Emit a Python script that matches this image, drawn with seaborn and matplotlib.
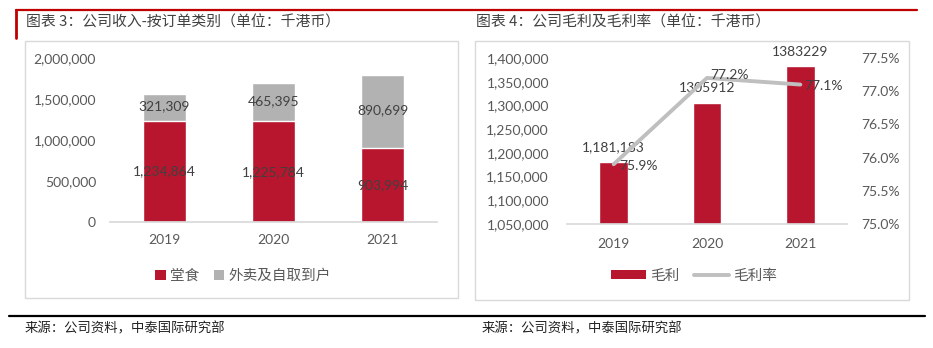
import matplotlib
matplotlib.use("Agg")
import matplotlib.pyplot as plt
from matplotlib.patches import Rectangle, Patch
from matplotlib.lines import Line2D
from matplotlib.ticker import FuncFormatter
import seaborn as sns
import numpy as np
import pandas as pd

# ---------------- data ----------------
years = ["2019", "2020", "2021"]
dine_in = [1234864, 1225784, 903994]
delivery = [321309, 465395, 890699]
gross_profit = [1181183, 1305912, 1383229]
gross_profit_labels = ["1,181,183", "1305912", "1383229"]
gross_margin = [75.9, 77.2, 77.1]

title_left = "图表 3：公司收入-按订单类别（单位：千港币）"
title_right = "图表 4：公司毛利及毛利率（单位：千港币）"
source_text = "来源：公司资料，中泰国际研究部"
legend_left = ["堂食", "外卖及自取到户"]
legend_right = ["毛利", "毛利率"]

RED = "#B8162E"
GRAY = "#B2B2B2"
LINE_GRAY = "#BFBFBF"
TXT = "#595959"
DARK = "#404040"
CJK = ["Noto Sans CJK SC", "DejaVu Sans"]

sns.set_theme(style="white")
plt.rcParams["font.family"] = ["Lato", "Noto Sans CJK SC", "DejaVu Sans"]
plt.rcParams["axes.unicode_minus"] = False

W, H = 933, 348
fig = plt.figure(figsize=(W / 100, H / 100), dpi=100)

def fx(x):
    return x / W

def fy(y):
    return 1 - y / H

# decorations: red lines, boxes, titles, sources
fig.add_artist(Line2D([fx(16), fx(470)], [fy(10), fy(10)], color="#C00000", lw=1.6))
fig.add_artist(Line2D([fx(16), fx(16)], [fy(10), fy(38)], color="#C00000", lw=2.0))
fig.add_artist(Line2D([fx(470), fx(917)], [fy(10), fy(10)], color="#C00000", lw=1.6))
fig.add_artist(Rectangle((fx(25), fy(298)), fx(458) - fx(25), fy(41) - fy(298),
                         fill=False, ec="#D9D9D9", lw=1.0))
fig.add_artist(Rectangle((fx(475), fy(300)), fx(909) - fx(475), fy(41) - fy(300),
                         fill=False, ec="#D9D9D9", lw=1.0))
fig.text(fx(26), fy(22), title_left, fontsize=10.7, color=DARK, va="center", ha="left",
         family=CJK)
fig.text(fx(476), fy(22), title_right, fontsize=10.7, color=DARK, va="center", ha="left",
         family=CJK)
fig.add_artist(Line2D([fx(9), fx(925)], [fy(316), fy(316)], color="black", lw=1.6))
fig.text(fx(25), fy(328), source_text, fontsize=9.6, color="#222222", va="center", ha="left",
         family=CJK)
fig.text(fx(482), fy(328), source_text, fontsize=9.6, color="#222222", va="center", ha="left",
         family=CJK)

# ---------------- left chart ----------------
axL = fig.add_axes([fx(110), fy(222), fx(437) - fx(110), fy(58) - fy(222)])
dfL = pd.DataFrame({"year": years, "dine": dine_in, "deliv": delivery})
dfL["total"] = dfL["dine"] + dfL["deliv"]
sns.barplot(data=dfL, x="year", y="total", color=GRAY, width=0.4, saturation=1, ax=axL)
sns.barplot(data=dfL, x="year", y="dine", color=RED, width=0.4, saturation=1, ax=axL)
axL.set_ylim(0, 2000000)
axL.set_xlim(-0.5, 2.5)
axL.set_yticks(np.arange(0, 2000001, 500000))
axL.yaxis.set_major_formatter(FuncFormatter(lambda v, p: f"{int(v):,}"))
axL.set_xlabel("")
axL.set_ylabel("")
for s in ["top", "right", "left"]:
    axL.spines[s].set_visible(False)
axL.spines["bottom"].set_color("#D9D9D9")
axL.tick_params(axis="y", length=0, pad=10, labelsize=10, labelcolor=TXT)
axL.tick_params(axis="x", length=0, pad=9, labelsize=10, labelcolor=TXT)
for i in range(len(years)):
    axL.text(i, dine_in[i] / 2, f"{dine_in[i]:,}", ha="center", va="center",
             fontsize=10, color=DARK)
    axL.text(i, dine_in[i] + delivery[i] / 2 + 15000, f"{delivery[i]:,}", ha="center",
             va="center", fontsize=10, color=DARK)
handlesL = [Patch(facecolor=RED, edgecolor="none"), Patch(facecolor=GRAY, edgecolor="none")]
fig.legend(handlesL, legend_left, loc="center", bbox_to_anchor=(fx(243), fy(276)),
           ncol=2, frameon=False, handlelength=0.7, handleheight=0.7,
           handletextpad=0.3, columnspacing=1.0, labelcolor=TXT,
           prop={"family": CJK, "size": 10.5})

# ---------------- right chart ----------------
axR = fig.add_axes([fx(567), fy(224), fx(847) - fx(567), fy(58) - fy(224)])
dfR = pd.DataFrame({"year": years, "gp": gross_profit, "gm": gross_margin})
sns.barplot(data=dfR, x="year", y="gp", color=RED, width=0.31, saturation=1, ax=axR)
axR.set_ylim(1050000, 1400000)
axR.set_xlim(-0.5, 2.5)
axR.set_yticks(np.arange(1050000, 1400001, 50000))
axR.yaxis.set_major_formatter(FuncFormatter(lambda v, p: f"{int(v):,}"))
axR.set_xlabel("")
axR.set_ylabel("")
for s in ["top", "right", "left"]:
    axR.spines[s].set_visible(False)
axR.spines["bottom"].set_color("#D9D9D9")
axR.tick_params(axis="y", length=0, pad=13, labelsize=10, labelcolor=TXT)
axR.tick_params(axis="x", length=0, pad=10, labelsize=10, labelcolor=TXT)
for i in range(len(years)):
    axR.annotate(gross_profit_labels[i], (i, gross_profit[i]), xytext=(0, 6),
                 textcoords="offset points", ha="center", va="bottom", fontsize=10, color=DARK)

axR2 = axR.twinx()
sns.lineplot(x=np.arange(len(years)), y=dfR["gm"], color=LINE_GRAY, lw=2.8, ax=axR2)
axR2.set_ylim(75.0, 77.5)
axR2.set_yticks(np.arange(75.0, 77.51, 0.5))
axR2.yaxis.set_major_formatter(FuncFormatter(lambda v, p: f"{v:.1f}%"))
axR2.set_ylabel("")
for s in ["top", "right", "left", "bottom"]:
    axR2.spines[s].set_visible(False)
axR2.tick_params(axis="y", length=0, pad=10, labelsize=10, labelcolor=TXT)
offsets = [(4, -1), (2, 2), (3, -1)]
for i in range(len(years)):
    axR2.annotate(f"{gross_margin[i]:.1f}%", (i, gross_margin[i]), xytext=offsets[i],
                  textcoords="offset points", ha="left", va="center", fontsize=10, color=DARK)

handlesR = [Patch(facecolor=RED, edgecolor="none"), Line2D([], [], color=LINE_GRAY, lw=2.8)]
fig.legend(handlesR, legend_right, loc="center", bbox_to_anchor=(fx(694), fy(276)),
           ncol=2, frameon=False, handlelength=2.4, handleheight=0.6,
           handletextpad=0.3, columnspacing=1.0, labelcolor=TXT,
           prop={"family": CJK, "size": 10.5})

fig.savefig("out.png", dpi=100)
